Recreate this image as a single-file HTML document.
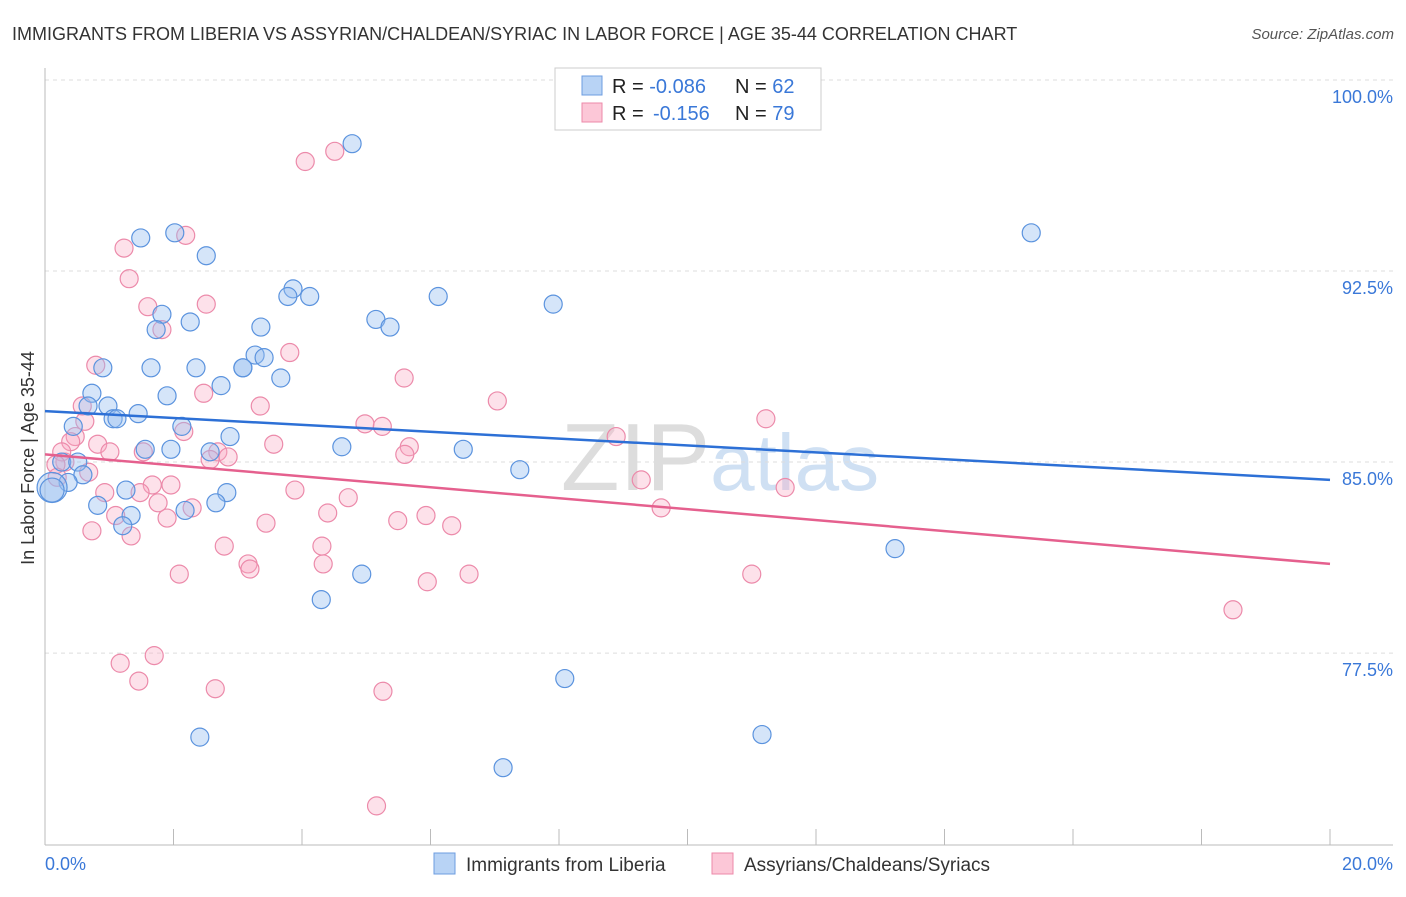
<!DOCTYPE html>
<html><head><meta charset="utf-8"><style>
body{margin:0;background:#fff;font-family:"Liberation Sans",sans-serif;}
svg text{font-family:"Liberation Sans",sans-serif;}
</style></head><body>
<svg id="c" width="1406" height="892">
<text x="12" y="40" font-size="18" fill="#333">IMMIGRANTS FROM LIBERIA VS ASSYRIAN/CHALDEAN/SYRIAC IN LABOR FORCE | AGE 35-44 CORRELATION CHART</text>
<text x="1394" y="39" font-size="15" fill="#555" text-anchor="end" font-style="italic">Source: ZipAtlas.com</text>
<text x="720" y="490" font-size="96" fill="#ddd" text-anchor="middle" font-family="Liberation Serif">ZIP<tspan fill="#cfe0f3" font-family="Liberation Sans" font-size="80">atlas</tspan></text>
<text transform="translate(34,458) rotate(-90)" font-size="18" fill="#333" text-anchor="middle">In Labor Force | Age 35-44</text>
<g id="grid"></g><g id="pts"></g><g id="lines"></g>
<g>
<rect x="555" y="68" width="266" height="62" fill="#fff" stroke="#ccc"/>
<rect x="582" y="76" width="20" height="19" fill="#b8d3f5" stroke="#6d9de0"/>
<rect x="582" y="103" width="20" height="19" fill="#fcc7d7" stroke="#ec8aaa"/>
<text x="612" y="93" font-size="20" fill="#222">R = <tspan fill="#3a78d8">-0.086</tspan>  <tspan x="735">N = </tspan><tspan fill="#3a78d8">62</tspan></text>
<text x="612" y="120" font-size="20" fill="#222">R = <tspan fill="#3a78d8" x="653">-0.156</tspan><tspan x="735">N = </tspan><tspan fill="#3a78d8">79</tspan></text>
</g>
<g>
<rect x="434" y="853" width="21" height="21" fill="#b8d3f5" stroke="#6d9de0"/>
<text x="466" y="871" font-size="19" fill="#333">Immigrants from Liberia</text>
<rect x="712" y="853" width="21" height="21" fill="#fcc7d7" stroke="#ec8aaa"/>
<text x="744" y="871" font-size="19" fill="#333">Assyrians/Chaldeans/Syriacs</text>
</g>
<text x="45" y="870" font-size="18" fill="#3a78d8">0.0%</text>
<text x="1393" y="870" font-size="18" fill="#3a78d8" text-anchor="end">20.0%</text>
</svg>
<script>
const yTicks=[100,92.5,85,77.5];
const yTickLabels=["100.0%","92.5%","85.0%","77.5%"];
const xTicks=[0,2,4,6,8,10,12,14,16,18,20];
const blueX=[4.78,15.35,1.49,2.02,2.51,3.86,3.78,4.12,6.12,7.91,1.82,2.26,5.15,5.37,1.73,3.36,3.27,3.41,3.08,3.08,0.90,1.65,2.35,3.67,2.74,0.73,1.90,0.67,0.98,1.45,1.06,1.12,2.13,0.44,2.88,4.62,6.51,1.96,1.56,2.57,0.26,0.51,7.39,0.59,0.36,0.11,0.11,1.26,2.83,0.82,2.66,2.18,1.34,1.21,13.23,4.93,4.30,8.09,11.16,2.41,7.13];
const blueY=[97.5,94.0,93.8,94.0,93.1,91.8,91.5,91.5,91.5,91.2,90.8,90.5,90.6,90.3,90.2,90.3,89.2,89.1,88.7,88.7,88.7,88.7,88.7,88.3,88.0,87.7,87.6,87.2,87.2,86.9,86.7,86.7,86.4,86.4,86.0,85.6,85.5,85.5,85.5,85.4,85.0,85.0,84.7,84.5,84.2,84.0,83.9,83.9,83.8,83.3,83.4,83.1,82.9,82.5,81.6,80.6,79.6,76.5,74.3,74.2,73.0];
const blueR=[9,9,9,9,9,9,9,9,9,9,9,9,9,9,9,9,9,9,9,9,9,9,9,9,9,9,9,9,9,9,9,9,9,9,9,9,9,9,9,9,9,9,9,9,9,15,12,9,9,9,9,9,9,9,9,9,9,9,9,9,9];
const pinkX=[4.51,4.05,2.19,1.23,1.31,2.51,1.60,1.82,3.81,0.79,5.59,2.47,7.04,3.35,0.58,11.22,4.98,5.25,0.62,2.16,8.89,0.47,0.40,0.82,3.56,5.67,5.60,1.01,1.53,2.69,2.85,2.57,0.26,0.31,0.17,0.68,0.19,9.28,11.52,1.67,1.96,3.89,0.93,1.48,4.72,1.76,2.29,9.59,1.10,4.40,5.93,1.90,5.49,6.33,3.44,0.73,1.34,2.79,4.31,3.16,4.33,3.19,2.09,6.60,11.00,5.95,18.49,1.70,1.17,1.46,2.65,5.26,5.16];
const pinkY=[97.2,96.8,93.9,93.4,92.2,91.2,91.1,90.2,89.3,88.8,88.3,87.7,87.4,87.2,87.2,86.7,86.5,86.4,86.6,86.2,86.0,86.0,85.8,85.7,85.7,85.6,85.3,85.4,85.4,85.4,85.2,85.1,85.4,85.0,84.9,84.6,84.4,84.3,84.0,84.1,84.1,83.9,83.8,83.8,83.6,83.4,83.2,83.2,82.9,83.0,82.9,82.8,82.7,82.5,82.6,82.3,82.1,81.7,81.7,81.0,81.0,80.8,80.6,80.6,80.6,80.3,79.2,77.4,77.1,76.4,76.1,76.0,71.5];
const blueTrend=[87.0,84.3];
const pinkTrend=[85.3,81.0];
const NS="http://www.w3.org/2000/svg";
const x=v=>45+v*64.25, y=v=>80+(100-v)*25.47;
const g=document.getElementById('grid');
function mk(t,a,p){const e=document.createElementNS(NS,t);for(const k in a)e.setAttribute(k,a[k]);p.appendChild(e);return e;}
yTicks.forEach((t,i)=>{
 const l=mk('line',{x1:45,x2:1393,y1:y(t),y2:y(t),stroke:'#ddd','stroke-dasharray':'4,4'},g);
 
 
 const tx=mk('text',{x:1393,y:y(t)+23,'font-size':18,fill:'#3a78d8','text-anchor':'end'},g);
 tx.textContent=yTickLabels[i];
 
 
});
const ax=mk('line',{x1:45,x2:45,y1:68,y2:845,stroke:'#bbb'},g);


const bx=mk('line',{x1:45,x2:1393,y1:845,y2:845,stroke:'#bbb'},g);


xTicks.forEach(t=>{
 const l=mk('line',{x1:x(t),x2:x(t),y1:829,y2:845,stroke:'#bbb'},g);
 
 
});
const pg=document.getElementById('pts');
pinkX.forEach((v,i)=>{
 const c=mk('circle',{cx:x(v),cy:y(pinkY[i]),r:9,fill:'rgba(248,170,195,0.35)',stroke:'#ec8aaa','stroke-width':1.2},pg);
 
 
});
blueX.forEach((v,i)=>{
 const c=mk('circle',{cx:x(v),cy:y(blueY[i]),r:blueR[i],fill:'rgba(150,190,240,0.4)',stroke:'#5b93de','stroke-width':1.2},pg);
 
 
});
const lg=document.getElementById('lines');
const bl=mk('line',{x1:x(0),x2:x(20),y1:y(blueTrend[0]),y2:y(blueTrend[1]),stroke:'#2d70d6','stroke-width':2.5},lg);


const pl=mk('line',{x1:x(0),x2:x(20),y1:y(pinkTrend[0]),y2:y(pinkTrend[1]),stroke:'#e5608e','stroke-width':2.5},lg);


</script>
</body></html>
